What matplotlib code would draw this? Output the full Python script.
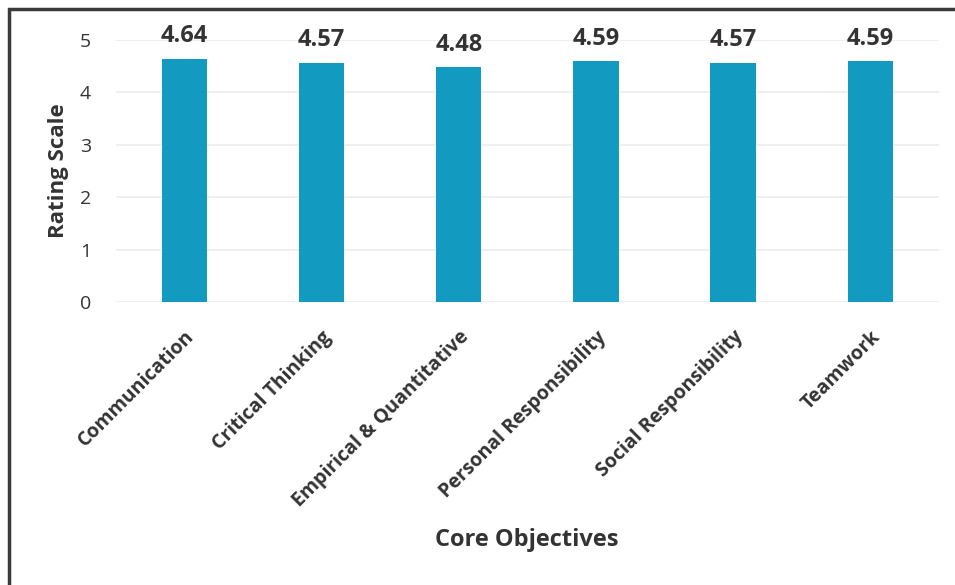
import matplotlib
matplotlib.use("Agg")
import matplotlib.pyplot as plt
from matplotlib.patches import Rectangle

# chart data
objectives = ['Communication', 'Critical Thinking', 'Empirical & Quantitative',
              'Personal Responsibility', 'Social Responsibility', 'Teamwork']
ratings = [4.64, 4.57, 4.48, 4.59, 4.57, 4.59]
y_ticks = [0, 1, 2, 3, 4, 5]

plt.rcParams['font.family'] = ['Open Sans', 'DejaVu Sans']
text_color = '#333333'
bar_color = '#139ac0'

fig = plt.figure(figsize=(9.55, 5.85), dpi=100)
ax = fig.add_axes([0.1215, 0.4838, 0.8615, 0.4478])

x = range(len(objectives))
bars = ax.bar(x, ratings, width=0.33, color=bar_color, zorder=3)

# value labels above bars
for b, v in zip(bars, ratings):
    ax.text(b.get_x() + b.get_width() / 2, v + 0.2, f'{v:.2f}',
            ha='center', va='bottom', fontsize=17, fontweight='bold',
            color=text_color)

ax.set_xlim(-0.5, len(objectives) - 0.5)
ax.set_ylim(0, 5)
ax.set_yticks(y_ticks)
ax.set_xticks(list(x))
ax.set_xticklabels(objectives, rotation=45, ha='right', rotation_mode='anchor',
                   fontsize=14, fontweight='bold', color=text_color)
ax.tick_params(axis='y', labelsize=14, colors=text_color, length=0, pad=18)
ax.tick_params(axis='x', length=0, pad=18)

ax.yaxis.grid(True, color='#ececec', linewidth=1.2, zorder=0)
for s in ax.spines.values():
    s.set_visible(False)

ax.set_ylabel('Rating Scale', fontsize=16, fontweight='bold', color=text_color, labelpad=8)
fig.text(0.552, 0.077, 'Core Objectives', ha='center', va='center',
         fontsize=17, fontweight='bold', color=text_color)

# outer frame
fig.patches.append(Rectangle((0.009, -0.05), 1.2, 1.035, transform=fig.transFigure,
                             fill=False, edgecolor='#3a3a3a', linewidth=2.5))

fig.savefig('out.png', dpi=100)
